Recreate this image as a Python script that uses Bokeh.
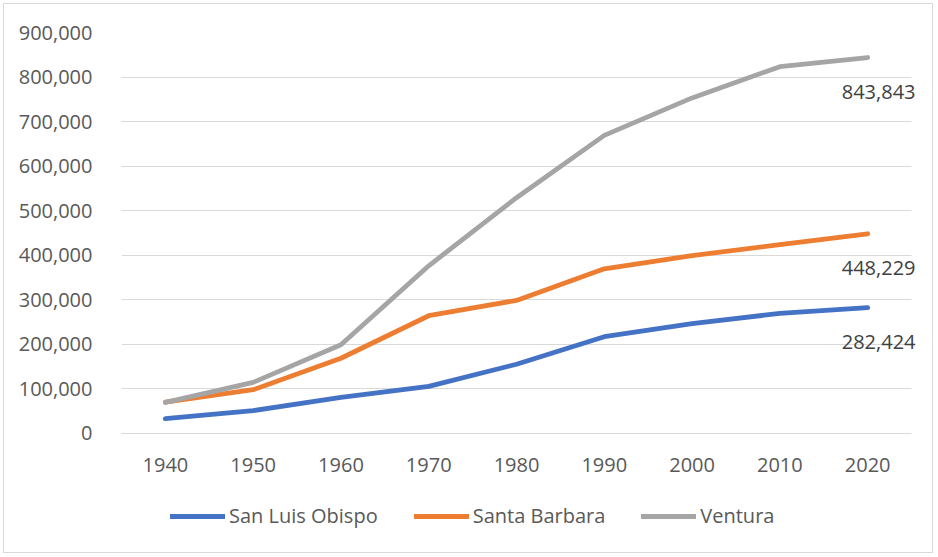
from bokeh.plotting import figure
from bokeh.models import (Range1d, NumeralTickFormatter, FixedTicker,
                          Legend, LegendItem, ColumnDataSource)
from bokeh.core.properties import value
from bokeh.embed import file_html
from bokeh.resources import INLINE

years = [1940, 1950, 1960, 1970, 1980, 1990, 2000, 2010, 2020]
san_luis_obispo = [33246, 51417, 81044, 105690, 155435, 217162, 246681, 269637, 282424]
santa_barbara = [70555, 98220, 168962, 264324, 298694, 369608, 399347, 423895, 448229]
ventura = [69685, 114647, 199138, 376430, 529174, 669016, 753197, 823318, 843843]
series_names = ["San Luis Obispo", "Santa Barbara", "Ventura"]
colors = ["#4472C4", "#ED7D31", "#A5A5A5"]
y_ticks = [0, 100000, 200000, 300000, 400000, 500000, 600000, 700000, 800000, 900000]

FONT = "Open Sans"
TXT = "#595959"

# category-style x axis: each decade occupies one slot, 1935..2025 is the plot area
p = figure(width=930, height=550, x_range=Range1d(1935, 2027.16), y_range=Range1d(-262600, 900000),
           output_backend="svg", toolbar_location=None,
           min_border_left=117, min_border_right=4, min_border_top=28, min_border_bottom=4)
p.styles = {"border": "1px solid #D9D9D9", "margin": "3px"}
p.outline_line_color = None
p.background_fill_color = "white"
p.border_fill_color = "white"

p.xgrid.grid_line_color = None
p.ygrid.grid_line_color = "#D9D9D9"
p.ygrid.grid_line_width = 1
p.ygrid.cross_bounds = (1935, 2025)
p.yaxis.ticker = FixedTicker(ticks=y_ticks)
p.yaxis.formatter = NumeralTickFormatter(format="0,0")
p.xaxis.ticker = FixedTicker(ticks=years)
p.xaxis.fixed_location = 0

for ax in (p.xaxis, p.yaxis):
    ax.axis_line_color = None
    ax.major_tick_line_color = None
    ax.minor_tick_line_color = None
    ax.major_label_text_font = FONT
    ax.major_label_text_font_size = "20px"
    ax.major_label_text_color = TXT
p.yaxis.major_label_standoff = 23
p.xaxis.major_label_standoff = 19

items = []
for name, vals, c in zip(series_names, [san_luis_obispo, santa_barbara, ventura], colors):
    r = p.line(years, vals, line_color=c, line_width=4.8, line_cap="round", line_join="round")
    items.append(LegendItem(label=name, renderers=[r]))

last = ColumnDataSource(dict(x=[years[-1]] * 3,
                             y=[ventura[-1], santa_barbara[-1], san_luis_obispo[-1]],
                             t=[f"{ventura[-1]:,}", f"{santa_barbara[-1]:,}", f"{san_luis_obispo[-1]:,}"]))
p.text(x="x", y="y", text="t", source=last, x_offset=11, y_offset=34,
       text_align="center", text_baseline="middle", text_font=value(FONT),
       text_font_size="20px", text_color="#404040")

legend = Legend(items=items, orientation="horizontal", location=(49, 21),
                label_text_font=FONT, label_text_font_size="20px", label_text_color=TXT,
                glyph_width=55, glyph_height=24, label_height=24, label_standoff=4,
                spacing=36, padding=0, margin=0, border_line_color=None,
                background_fill_alpha=0)
p.add_layout(legend, "center")

open("out.html", "w").write(file_html(p, INLINE))
